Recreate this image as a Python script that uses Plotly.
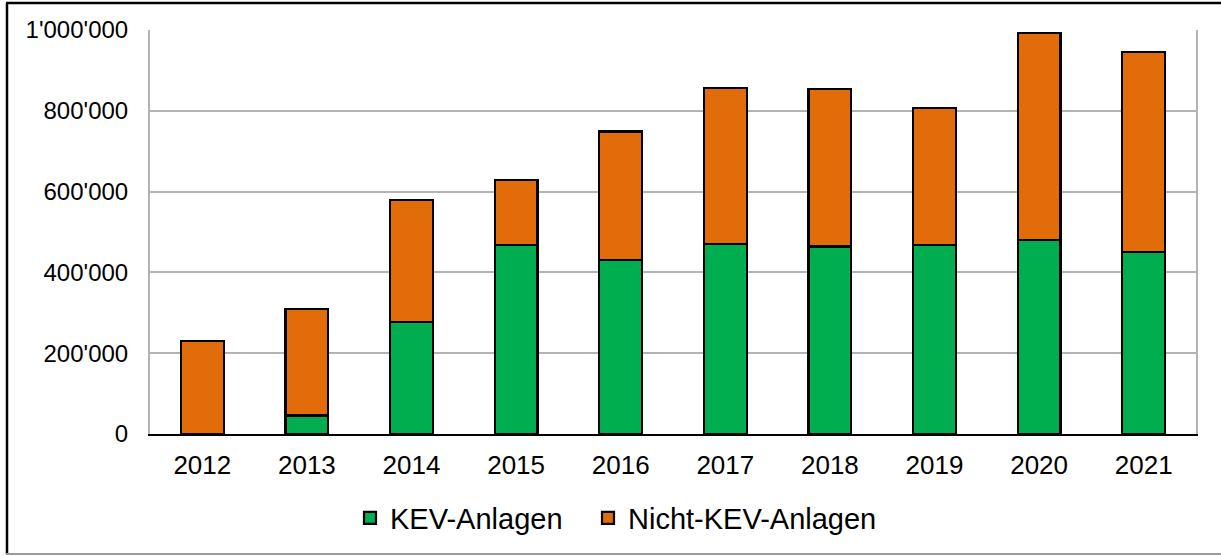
import plotly.graph_objects as go

years = ["2012", "2013", "2014", "2015", "2016", "2017", "2018", "2019", "2020", "2021"]
kev = [0, 46000, 278000, 468000, 430000, 470000, 464000, 468000, 480000, 450000]
nicht_kev = [230000, 263000, 301000, 161000, 319000, 387000, 390000, 339000, 512000, 495000]
y_ticks = [0, 200000, 400000, 600000, 800000, 1000000]

W, H = 1221, 556
ML, MR, MT, MB = 150, 25, 30, 122
PW = W - ML - MR
PH = H - MT - MB

def px_x(p):
    return (p - ML) / PW

def px_y(p):
    return (H - MB - p) / PH

fig = go.Figure()
fig.add_trace(go.Bar(
    name="KEV-Anlagen", x=years, y=kev, legend="legend",
    marker=dict(color="#00AE4F", line=dict(color="black", width=2.2)),
))
fig.add_trace(go.Bar(
    name="Nicht-KEV-Anlagen", x=years, y=nicht_kev, legend="legend2",
    marker=dict(color="#E36C0A", line=dict(color="black", width=2.2)),
))

font = "Liberation Sans, Arial, sans-serif"
legend_common = dict(
    orientation="h", xanchor="left",
    y=px_y(518), yanchor="middle",
    font=dict(size=29, family=font, color="black"),
    bgcolor="rgba(0,0,0,0)",
    itemwidth=30,
)
fig.update_layout(
    barmode="stack",
    bargap=0.59,
    width=W, height=H,
    margin=dict(l=ML, r=MR, t=MT, b=MB, pad=0),
    paper_bgcolor="white",
    plot_bgcolor="white",
    separators=".'",
    font=dict(family=font, color="black"),
    showlegend=True,
    legend=dict(x=px_x(350), **legend_common),
    legend2=dict(x=px_x(588), **legend_common),
    xaxis=dict(
        showline=True, linecolor="black", linewidth=2,
        ticks="", tickfont=dict(size=26, family=font, color="black"),
        ticklabelstandoff=7,
        showgrid=False, zeroline=False,
    ),
    yaxis=dict(
        range=[0, 1000000], tickvals=y_ticks, tickformat=",d",
        showgrid=True, gridcolor="#B3B3B3", gridwidth=2,
        showline=True, linecolor="#B3B3B3", linewidth=2, mirror=True,
        zeroline=False, ticks="",
        tickfont=dict(size=24, family=font, color="black"),
        ticklabelstandoff=15,
    ),
    shapes=[
        dict(type="line", xref="paper", yref="paper",
             x0=px_x(7), x1=px_x(7), y0=px_y(3), y1=px_y(554),
             line=dict(color="black", width=2.5)),
        dict(type="line", xref="paper", yref="paper",
             x0=px_x(6), x1=px_x(1225), y0=px_y(3), y1=px_y(3),
             line=dict(color="black", width=2.5)),
        dict(type="line", xref="paper", yref="paper",
             x0=px_x(6), x1=px_x(1225), y0=px_y(554), y1=px_y(554),
             line=dict(color="#999999", width=2)),
    ],
)

fig.write_html(
    "out.html",
    config={"displayModeBar": False},
    post_script="document.body.style.margin='0';document.body.style.overflow='hidden';",
)
